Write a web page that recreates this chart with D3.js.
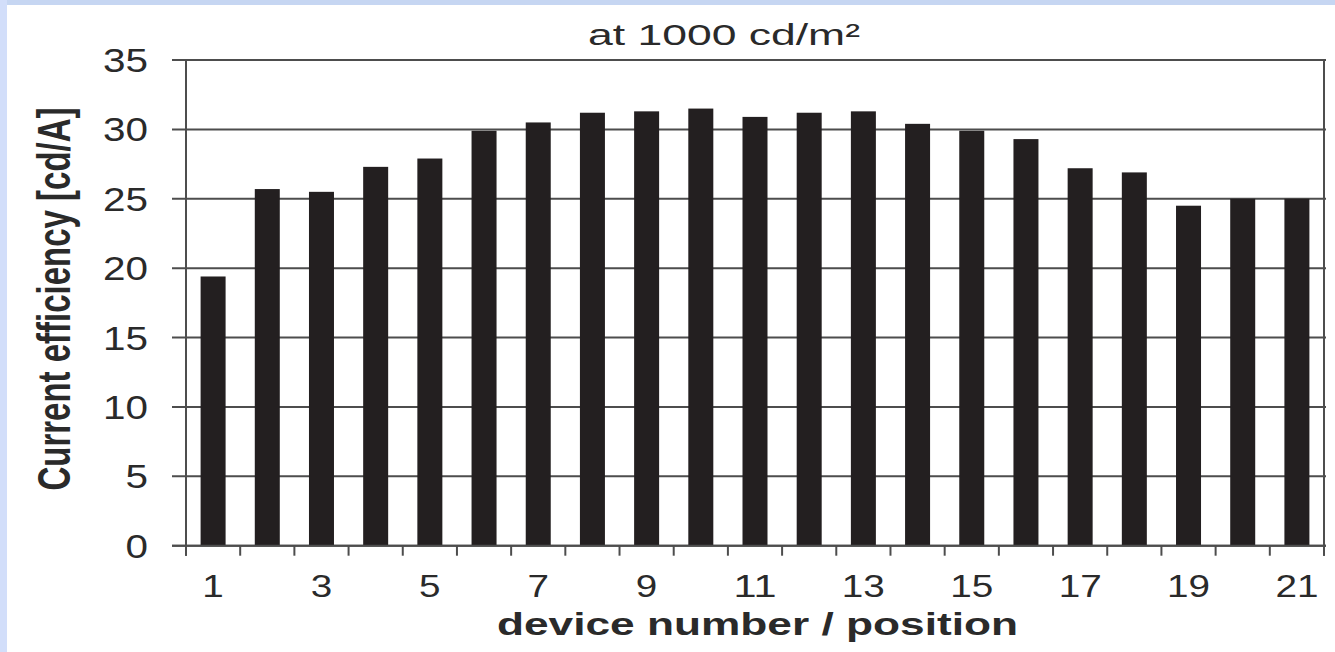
<!DOCTYPE html>
<html>
<head>
<meta charset="utf-8">
<script src="https://cdn.jsdelivr.net/npm/d3@7"></script>
<style>
  html, body { margin: 0; padding: 0; background: #ffffff; }
  svg { display: block; }
</style>
</head>
<body>
<svg id="chart" width="1335" height="652"></svg>
<script>
// ---- data ----
const devices = ["1","2","3","4","5","6","7","8","9","10","11","12","13","14","15","16","17","18","19","20","21"];
const efficiency = [19.4, 25.7, 25.5, 27.3, 27.9, 29.9, 30.5, 31.2, 31.3, 31.5, 30.9, 31.2, 31.3, 30.4, 29.9, 29.3, 27.2, 26.9, 24.5, 25.0, 25.0];
const yTicks = [0, 5, 10, 15, 20, 25, 30, 35];
const xTickLabels = ["1","3","5","7","9","11","13","15","17","19","21"];
const titleText = "at 1000 cd/m²";
const xTitle = "device number / position";
const yTitle = "Current efficiency [cd/A]";

(function () {
  // ---- layout ----
  const svg = d3.select("#chart");
  const W = 1335, H = 652;
  const pLeft = 186, pRight = 1324, pTop = 60, pBottom = 545.7;
  const ink = "#231f20";
  const gridCol = "#4d4d4d";
  const txtCol = "#2a2a2a";
  const font = "'Liberation Sans', Arial, Helvetica, sans-serif";

  // background border strips
  svg.append("rect").attr("x", 0).attr("y", 0).attr("width", W).attr("height", H).attr("fill", "#ffffff");
  svg.append("rect").attr("x", 0).attr("y", 0).attr("width", W).attr("height", 5).attr("fill", "#c6d6f2");
  svg.append("rect").attr("x", 0).attr("y", 0).attr("width", 7).attr("height", H).attr("fill", "#d2defa");

  const x = d3.scaleBand().domain(devices).range([pLeft, pRight]).paddingInner(0).paddingOuter(0);
  const y = d3.scaleLinear().domain([0, 35]).range([pBottom, pTop]);
  const barW = 25;

  // horizontal gridlines (extend left as ticks)
  svg.append("g").selectAll("line").data(yTicks).join("line")
    .attr("x1", pLeft - 14).attr("x2", pRight + 2)
    .attr("y1", d => y(d)).attr("y2", d => y(d))
    .attr("stroke", gridCol).attr("stroke-width", 2);

  // bars
  svg.append("g").selectAll("rect").data(devices).join("rect")
    .attr("x", d => x(d) + x.bandwidth() / 2 - barW / 2)
    .attr("width", barW)
    .attr("y", (d, i) => y(efficiency[i]))
    .attr("height", (d, i) => y(0) - y(efficiency[i]))
    .attr("fill", ink);

  // baseline on top
  svg.append("line").attr("x1", pLeft - 14).attr("x2", pRight + 2)
    .attr("y1", y(0)).attr("y2", y(0)).attr("stroke", gridCol).attr("stroke-width", 2);

  // left & right axis lines
  svg.append("line").attr("x1", pLeft).attr("x2", pLeft).attr("y1", pTop).attr("y2", pBottom + 10)
    .attr("stroke", gridCol).attr("stroke-width", 2);
  svg.append("line").attr("x1", pRight).attr("x2", pRight).attr("y1", pTop).attr("y2", pBottom + 10)
    .attr("stroke", gridCol).attr("stroke-width", 2);

  // x ticks at band boundaries
  const boundaries = devices.map(d => x(d)).concat([pRight]);
  svg.append("g").selectAll("line").data(boundaries).join("line")
    .attr("x1", d => d).attr("x2", d => d)
    .attr("y1", pBottom).attr("y2", pBottom + 10)
    .attr("stroke", gridCol).attr("stroke-width", 2);

  // y tick labels
  svg.append("g").selectAll("text").data(yTicks).join("text")
    .attr("x", 148).attr("y", d => y(d) + 12)
    .attr("text-anchor", "end")
    .attr("font-family", font).attr("font-size", 33).attr("fill", txtCol)
    .attr("textLength", d => String(d).length * 22.5)
    .attr("lengthAdjust", "spacingAndGlyphs")
    .text(d => d);

  // x tick labels
  svg.append("g").selectAll("text").data(xTickLabels).join("text")
    .attr("x", d => x(d) + x.bandwidth() / 2)
    .attr("y", 597)
    .attr("text-anchor", "middle")
    .attr("font-family", font).attr("font-size", 31).attr("fill", txtCol)
    .attr("textLength", d => d.length * 21.5)
    .attr("lengthAdjust", "spacingAndGlyphs")
    .text(d => d);

  // title
  svg.append("text").attr("x", 724).attr("y", 45)
    .attr("text-anchor", "middle")
    .attr("font-family", font).attr("font-size", 30).attr("fill", txtCol)
    .attr("textLength", 272).attr("lengthAdjust", "spacingAndGlyphs")
    .text(titleText);

  // x title
  svg.append("text").attr("x", 757.5).attr("y", 635)
    .attr("text-anchor", "middle")
    .attr("font-family", font).attr("font-size", 31).attr("font-weight", "bold").attr("fill", txtCol)
    .attr("textLength", 521).attr("lengthAdjust", "spacingAndGlyphs")
    .text(xTitle);

  // y title (condensed along its length, tall glyphs)
  svg.append("text")
    .attr("transform", "translate(70,299) rotate(-90) scale(1,1.38)")
    .attr("text-anchor", "middle")
    .attr("font-family", font).attr("font-size", 33).attr("font-weight", "bold").attr("fill", txtCol)
    .text(yTitle);
})();
</script>
</body>
</html>
